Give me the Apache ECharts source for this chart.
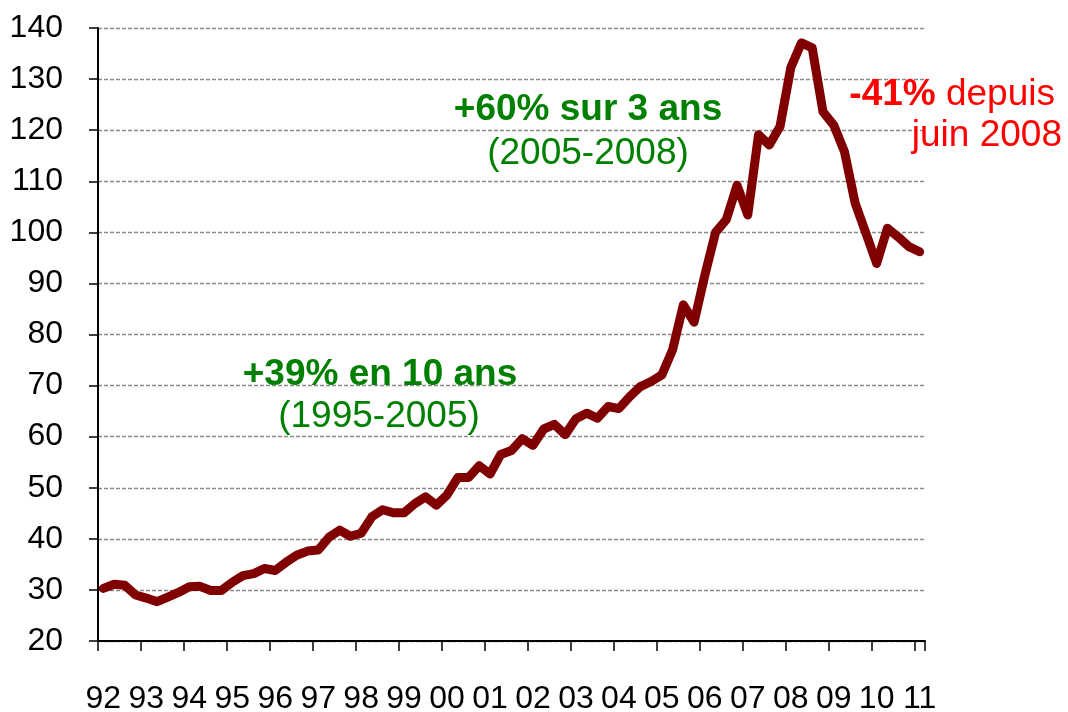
<!DOCTYPE html>
<html>
<head>
<meta charset="utf-8">
<script src="https://cdn.jsdelivr.net/npm/echarts@6/dist/echarts.min.js"></script>
<style>
  html, body { margin: 0; padding: 0; background: #fff; }
  #chart { width: 1068px; height: 712px; }
</style>
</head>
<body>
<div id="chart"></div>
<script>
// Year labels (one per 4 quarters, shown on Q1)
const years = ["92","93","94","95","96","97","98","99","00","01","02","03","04","05","06","07","08","09","10","11"];
const quarters = ["T1","T2","T3","T4"];
// Quarterly index values, 1992 T1 .. 2011 T1
const values = [
  30.3, 31.1, 30.9, 29.0, 28.4, 27.7, 28.6, 29.5, 30.6, 30.7,
  29.9, 29.9, 31.5, 32.8, 33.2, 34.2, 33.8, 35.4, 36.8, 37.6,
  37.8, 40.3, 41.7, 40.5, 41.1, 44.3, 45.7, 45.1, 45.1, 46.9,
  48.2, 46.6, 48.6, 52.0, 52.0, 54.3, 52.7, 56.5, 57.3, 59.6,
  58.3, 61.5, 62.4, 60.4, 63.5, 64.6, 63.6, 65.9, 65.5, 67.8,
  69.8, 70.8, 72.1, 77.0, 85.8, 82.4, 91.6, 100.0, 102.5, 109.2,
  103.4, 119.1, 117.1, 120.7, 132.2, 137.1, 136.1, 123.6, 121.0, 115.8,
  105.7, 99.8, 93.9, 100.8, 99.1, 97.2, 96.2
];
const yMin = 20, yMax = 140, yStep = 10;

// Category list: one entry per quarter
const categories = [];
years.forEach(y => quarters.forEach(q => categories.push(y + " " + q)));
categories.length = values.length;

const tickFont = '"Liberation Sans", Arial, sans-serif';
const sans = '"Liberation Sans", Arial, sans-serif';
const green = '#008000';
const red = '#ff0000';

const chart = echarts.init(document.getElementById('chart'), null, { renderer: 'canvas' });
chart.setOption({
  animation: false,
  backgroundColor: '#ffffff',
  grid: { left: 98, right: 143, top: 28, bottom: 71, containLabel: false, outerBoundsMode: 'none' },
  xAxis: {
    type: 'category',
    data: categories,
    boundaryGap: true,
    axisLine: { show: true, lineStyle: { color: '#000', width: 2 } },
    axisTick: { show: true, interval: 3, length: 10, lineStyle: { color: '#000', width: 1.5 } },
    axisLabel: {
      interval: 3, margin: 42,
      fontFamily: tickFont, fontSize: 32, color: '#000',
      formatter: v => v.split(' ')[0]
    },
    splitLine: { show: false }
  },
  yAxis: {
    type: 'value',
    min: yMin, max: yMax, interval: yStep,
    axisLine: { show: true, lineStyle: { color: '#000', width: 2 } },
    axisTick: { show: true, length: 9, lineStyle: { color: '#000', width: 1.5 } },
    axisLabel: { margin: 35, fontFamily: tickFont, fontSize: 32, color: '#000' },
    splitLine: { show: true, lineStyle: { color: '#8a8a8a', width: 1.3, type: [4, 2] } }
  },
  series: [{
    type: 'line',
    data: values,
    symbol: 'none',
    lineStyle: { color: '#800000', width: 9, cap: 'round', join: 'round' },
    z: 5
  }],
  graphic: [
    { type: 'text', z: 10, style: { x: 588, y: 110, text: '+60% sur 3 ans', font: 'bold 37px ' + sans, fill: green, textAlign: 'center', textVerticalAlign: 'middle' } },
    { type: 'text', z: 10, style: { x: 588, y: 154, text: '(2005-2008)', font: '37px ' + sans, fill: green, textAlign: 'center', textVerticalAlign: 'middle' } },
    { type: 'text', z: 10, style: { x: 380, y: 375, text: '+39% en 10 ans', font: 'bold 37px ' + sans, fill: green, textAlign: 'center', textVerticalAlign: 'middle' } },
    { type: 'text', z: 10, style: { x: 379, y: 417, text: '(1995-2005)', font: '37px ' + sans, fill: green, textAlign: 'center', textVerticalAlign: 'middle' } },
    { type: 'text', z: 10, style: {
        x: 1055, y: 95, text: '{b|-41%} depuis', font: '37px ' + sans, fill: red,
        textAlign: 'right', textVerticalAlign: 'middle',
        rich: { b: { font: 'bold 37px ' + sans, fill: red } }
    } },
    { type: 'text', z: 10, style: { x: 1062, y: 136, text: 'juin 2008', font: '37px ' + sans, fill: red, textAlign: 'right', textVerticalAlign: 'middle' } }
  ]
});
</script>
</body>
</html>
